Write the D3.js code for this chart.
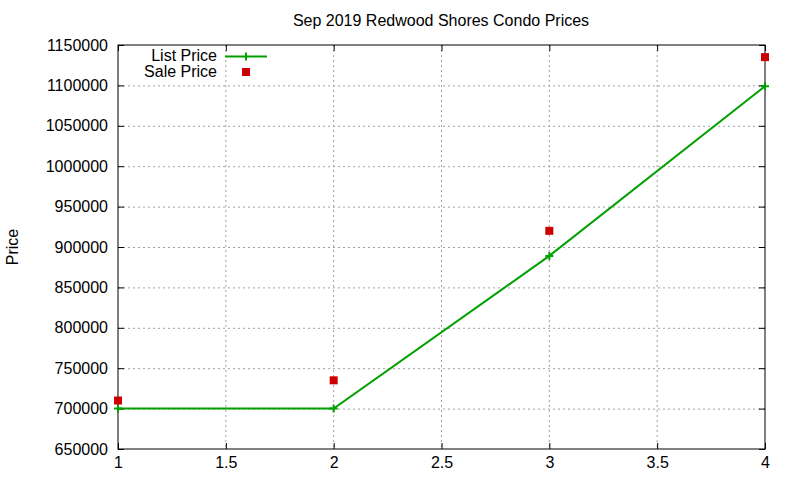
<!DOCTYPE html>
<html><head><meta charset="utf-8">
<script src="https://cdn.jsdelivr.net/npm/d3@7"></script>
<style>body{margin:0;background:#fff}svg{display:block}text{font-family:"Liberation Sans",Arial,sans-serif}</style>
</head><body>
<svg id="c" width="800" height="480"></svg>
<script>
const categories = [1, 2, 3, 4];
const listPrice = [700000, 700000, 889000, 1099000];
const salePrice = [710000, 735000, 920000, 1135000];
const xTicks = [1, 1.5, 2, 2.5, 3, 3.5, 4];
const yTicks = [650000, 700000, 750000, 800000, 850000, 900000, 950000, 1000000, 1050000, 1100000, 1150000];

const FS = 16;
const svg = d3.select("#c");
const L = 118, R = 765, T = 45, B = 449;
const x = d3.scaleLinear().domain([1, 4]).range([L, R]);
const y = d3.scaleLinear().domain([650000, 1150000]).range([B, T]);

// grid
const g = svg.append("g");
g.selectAll("line.gx").data(xTicks.slice(1, -1)).join("line")
  .attr("x1", d => x(d)).attr("x2", d => x(d)).attr("y1", T).attr("y2", B)
  .attr("stroke", "#a0a0a0").attr("stroke-dasharray", "2,3").attr("stroke-width", 1);
g.selectAll("line.gy").data(yTicks.slice(1, -1)).join("line")
  .attr("y1", d => y(d) + 0.5).attr("y2", d => y(d) + 0.5).attr("x1", L).attr("x2", R)
  .attr("stroke", "#a0a0a0").attr("stroke-dasharray", "2,3").attr("stroke-width", 1);

// axes
const xa = svg.append("g").attr("transform", `translate(0,${B})`)
  .call(d3.axisBottom(x).tickValues(xTicks).tickSize(-6).tickPadding(8).tickFormat(d3.format("")));
const xt = svg.append("g").attr("transform", `translate(0,${T})`)
  .call(d3.axisTop(x).tickValues(xTicks).tickSize(-6).tickFormat(""));
const ya = svg.append("g").attr("transform", `translate(${L},0)`)
  .call(d3.axisLeft(y).tickValues(yTicks).tickSize(-6).tickPadding(10).tickFormat(d3.format("d")));
const yr = svg.append("g").attr("transform", `translate(${R},0)`)
  .call(d3.axisRight(y).tickValues(yTicks).tickSize(-6).tickFormat(""));
[xa, xt, ya, yr].forEach(a => {
  a.select(".domain").remove();
  a.selectAll("line").attr("stroke", "#000");
  a.selectAll("text").attr("font-size", FS).attr("fill", "#000")
    .style("font-family", '"Liberation Sans",Arial,sans-serif');
});
svg.append("rect").attr("x", L).attr("y", T).attr("width", R - L).attr("height", B - T)
  .attr("fill", "none").attr("stroke", "#000").attr("stroke-width", 1);

// list price line
const line = d3.line().x((d, i) => x(categories[i])).y(d => y(d));
svg.append("path").datum(listPrice).attr("d", line)
  .attr("fill", "none").attr("stroke", "#00a000").attr("stroke-width", 2);
svg.selectAll("path.pl").data(listPrice).join("path")
  .attr("d", (d, i) => `M${x(categories[i]) - 4},${y(d)}h8M${x(categories[i])},${y(d) - 4}v8`)
  .attr("stroke", "#00a000").attr("stroke-width", 2);

// sale price squares
svg.selectAll("rect.sp").data(salePrice).join("rect")
  .attr("x", (d, i) => x(categories[i]) - 4).attr("y", d => y(d) - 4)
  .attr("width", 8).attr("height", 8).attr("fill", "#cc0000");

// legend
svg.append("text").attr("x", 217).attr("y", 61).attr("text-anchor", "end").attr("font-size", FS).text("List Price");
svg.append("path").attr("d", "M225,56.5h42M246,52.5v8").attr("stroke", "#00a000").attr("stroke-width", 2);
svg.append("text").attr("x", 217).attr("y", 77).attr("text-anchor", "end").attr("font-size", FS).text("Sale Price");
svg.append("rect").attr("x", 242).attr("y", 68).attr("width", 8).attr("height", 8).attr("fill", "#cc0000");

// title and label
svg.append("text").attr("x", 441).attr("y", 26).attr("text-anchor", "middle").attr("font-size", FS)
  .text("Sep 2019 Redwood Shores Condo Prices");
svg.append("text").attr("transform", "translate(18,247) rotate(-90)").attr("text-anchor", "middle")
  .attr("font-size", FS).text("Price");
</script>
</body></html>
